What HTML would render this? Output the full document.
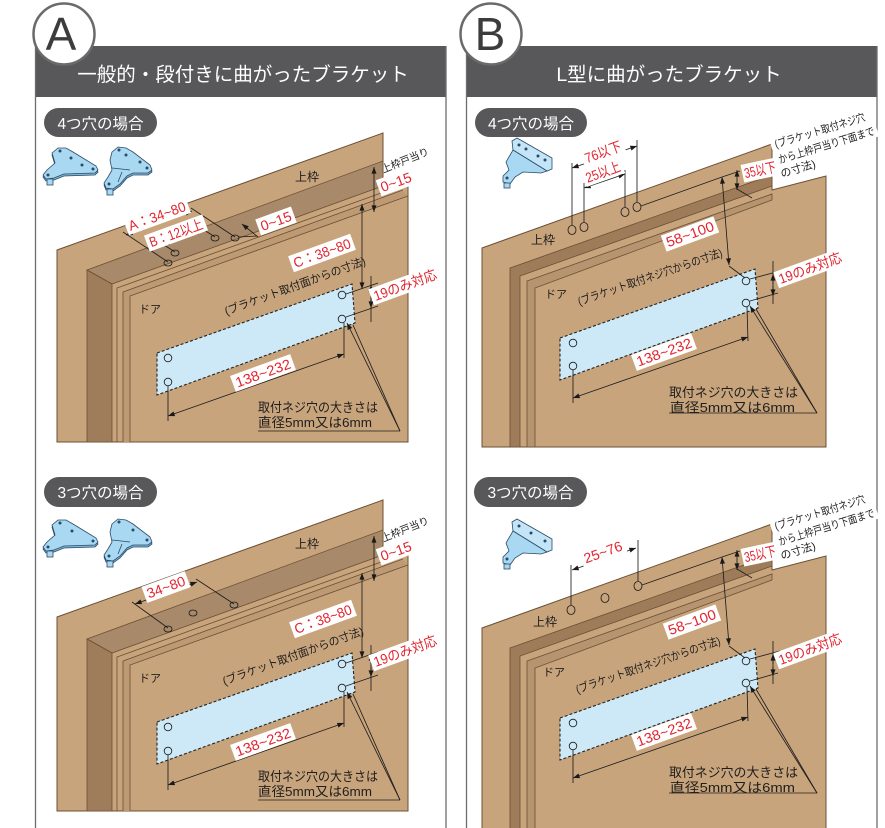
<!DOCTYPE html>
<html><head><meta charset="utf-8">
<style>
html,body{margin:0;padding:0;background:#fff;}
svg{display:block;}
text{font-family:"Liberation Sans","Noto Sans CJK JP",sans-serif;}
.r{fill:#e2242f;font-size:14px;}
.k{fill:#1e1e1e;}
.ln{stroke:#1e1e1e;stroke-width:0.85;fill:none;}
.ed{stroke:#6b4f34;stroke-width:0.8;fill:none;}
</style></head><body>
<svg width="885" height="828" viewBox="0 0 885 828" xmlns="http://www.w3.org/2000/svg">
<defs>
<marker id="ah" viewBox="0 0 8 6" refX="8" refY="3" markerWidth="7" markerHeight="5" markerUnits="userSpaceOnUse" orient="auto-start-reverse"><path d="M0,0 L8,3 L0,6 z" fill="#1a1a1a"/></marker>
</defs>

<!-- ===== PANEL FRAMES ===== -->
<rect x="35" y="46" width="411" height="51" fill="#58585a"/>
<rect x="466" y="46" width="411" height="51" fill="#58585a"/>
<g stroke="#6d6d6d" stroke-width="1.3">
<line x1="35.5" y1="46" x2="35.5" y2="828"/>
<line x1="446" y1="46" x2="446" y2="828"/>
<line x1="466.5" y1="46" x2="466.5" y2="828"/>
<line x1="877" y1="46" x2="877" y2="828"/>
</g>
<text x="243" y="81" font-size="19.5" fill="#fff" text-anchor="middle">一般的・段付きに曲がったブラケット</text>
<text x="669" y="81" font-size="19.5" fill="#fff" text-anchor="middle">L型に曲がったブラケット</text>
<circle cx="64" cy="34" r="30.5" fill="#fff" stroke="#6a6a6a" stroke-width="2.5"/>
<text x="61" y="50" font-size="46" fill="#3c3c3c" text-anchor="middle">A</text>
<circle cx="491" cy="34" r="30.5" fill="#fff" stroke="#6a6a6a" stroke-width="2.5"/>
<text x="490" y="50" font-size="46" fill="#3c3c3c" text-anchor="middle">B</text>

<!-- pills -->
<rect x="44" y="108" width="113" height="29" rx="14.5" fill="#58585a"/>
<text x="100.5" y="129" font-size="15.5" fill="#fff" text-anchor="middle">4つ穴の場合</text>
<rect x="475" y="108" width="112" height="29" rx="14.5" fill="#58585a"/>
<text x="531" y="129" font-size="15.5" fill="#fff" text-anchor="middle">4つ穴の場合</text>
<rect x="44" y="477" width="113" height="30" rx="15" fill="#58585a"/>
<text x="100.5" y="498" font-size="15.5" fill="#fff" text-anchor="middle">3つ穴の場合</text>
<rect x="474" y="477" width="113" height="30" rx="15" fill="#58585a"/>
<text x="530.5" y="498" font-size="15.5" fill="#fff" text-anchor="middle">3つ穴の場合</text>

<!-- ===== BRACKET ICONS ===== -->
<g>
<g stroke="#2a4a66" stroke-width="0.8" fill="#a9d8f2">
<path d="M52,155 L58,150 L66,150 L73,154 L96,168 L98,172 L95,175 L64,176 L54,180 L46,181 L43,177 L47,172 L55,165 Z" fill="#7fb6d8"/>
<path d="M52,153 L58,148 L66,148 L73,152 L96,166 L98,170 L95,173 L64,174 L54,178 L46,179 L43,175 L47,170 L55,163 Z"/>
<rect x="47" y="179" width="6" height="6"/>
<path d="M112,154 L118,149 L126,150 L133,154 L150,167 L152,172 L148,175 L133,175 L127,178 L120,186 L113,191 L106,190 L104,185 L108,179 L112,172 Z" fill="#7fb6d8"/>
<path d="M112,152 L118,147 L126,148 L133,152 L150,165 L152,170 L148,173 L133,173 L127,176 L120,184 L113,189 L106,188 L104,183 L108,177 L112,170 L110,160 Z"/>
<path d="M112,168 L130,170 M118,182 L122,172" fill="none"/>
<rect x="107" y="189" width="6" height="6"/>
</g>
<g fill="#2a4a66">
<circle cx="60" cy="151" r="1.5"/><circle cx="71" cy="158" r="1.5"/><circle cx="82" cy="165" r="1.5"/><circle cx="93" cy="169" r="1.5"/><circle cx="48" cy="175" r="1.5"/>
<circle cx="119" cy="150" r="1.5"/><circle cx="126" cy="155" r="1.5"/><circle cx="140" cy="162" r="1.5"/><circle cx="147" cy="168" r="1.5"/><circle cx="109" cy="184" r="1.5"/>
</g>
</g>
<g transform="translate(0,372)">
<g stroke="#2a4a66" stroke-width="0.8" fill="#a9d8f2">
<path d="M52,155 L58,150 L66,150 L73,154 L96,168 L98,172 L95,175 L64,176 L54,180 L46,181 L43,177 L47,172 L55,165 Z" fill="#7fb6d8"/>
<path d="M52,153 L58,148 L66,148 L73,152 L96,166 L98,170 L95,173 L64,174 L54,178 L46,179 L43,175 L47,170 L55,163 Z"/>
<rect x="47" y="179" width="6" height="6"/>
<path d="M112,154 L118,149 L126,150 L133,154 L150,167 L152,172 L148,175 L133,175 L127,178 L120,186 L113,191 L106,190 L104,185 L108,179 L112,172 Z" fill="#7fb6d8"/>
<path d="M112,152 L118,147 L126,148 L133,152 L150,165 L152,170 L148,173 L133,173 L127,176 L120,184 L113,189 L106,188 L104,183 L108,177 L112,170 L110,160 Z"/>
<path d="M112,168 L130,170 M118,182 L122,172" fill="none"/>
<rect x="107" y="189" width="6" height="6"/>
</g>
<g fill="#2a4a66">
<circle cx="60" cy="151" r="1.5"/><circle cx="72" cy="159" r="1.5"/><circle cx="93" cy="169" r="1.5"/><circle cx="48" cy="175" r="1.5"/>
<circle cx="119" cy="150" r="1.5"/><circle cx="133" cy="158" r="1.5"/><circle cx="147" cy="168" r="1.5"/><circle cx="109" cy="184" r="1.5"/>
</g>
</g>
<g>
<g stroke="#2a4a66" stroke-width="0.8" fill="#a9d8f2">
<path d="M512,141 L517,138 L552,158 L552,169 L547,171 L513,150 Z" fill="#c4e5f7"/>
<path d="M513,150 L547,171 L541,173 L523,172 L515,177 L510,184 L503,182 L503,176 L509,170 L506,162 Z"/>
<rect x="504" y="183" width="6" height="5"/>
</g>
<g fill="#2a4a66"><circle cx="519" cy="145" r="1.5"/><circle cx="526" cy="149" r="1.5"/><circle cx="538" cy="156" r="1.5"/><circle cx="545" cy="160" r="1.5"/><circle cx="507" cy="178" r="1.5"/></g>
</g>
<g transform="translate(0,381)">
<g stroke="#2a4a66" stroke-width="0.8" fill="#a9d8f2">
<path d="M512,141 L517,138 L552,158 L552,169 L547,171 L513,150 Z" fill="#c4e5f7"/>
<path d="M513,150 L547,171 L541,173 L523,172 L515,177 L510,184 L503,182 L503,176 L509,170 L506,162 Z"/>
<rect x="504" y="183" width="6" height="5"/>
</g>
<g fill="#2a4a66"><circle cx="519" cy="145" r="1.5"/><circle cx="531" cy="152" r="1.5"/><circle cx="545" cy="160" r="1.5"/><circle cx="507" cy="178" r="1.5"/></g>
</g>

<!-- ===== A TOP DIAGRAM ===== -->
<g>
<polygon points="57,250 383,133 383,186 408,183 408,442 57,442" fill="#c8a47c" stroke="#6b4f34" stroke-width="1"/>
<polygon points="87,270 383,161 383,186 112,284" fill="#a88969" stroke="#6b4f34" stroke-width="0.8"/>
<polygon points="87,270 112,284 112,442 87,442" fill="#a07d5a" stroke="#6b4f34" stroke-width="0.8"/>
<polygon points="123,292 403,191 408,196 130,296 130,442 123,442" fill="#bd9a73"/>
<polyline class="ed" points="117,442 117,288 395,188"/>
<polyline class="ed" points="123,442 123,292 403,190"/>
<polyline class="ed" points="130,442 130,296 408,196"/>
<polygon points="157,353 352,284 355,323 157,395" fill="#cde8f7" stroke="#222" stroke-width="1.1" stroke-dasharray="3,2"/>
<g class="ln"><circle cx="342" cy="295" r="3.8"/><circle cx="342" cy="319" r="3.8"/><circle cx="168" cy="358" r="3.8"/><circle cx="168" cy="382" r="3.8"/></g>
<g class="ln">
<line x1="374" y1="167" x2="374" y2="212" marker-start="url(#ah)" marker-end="url(#ah)"/>
<line x1="362" y1="204" x2="362" y2="289" marker-start="url(#ah)" marker-end="url(#ah)"/>
<line x1="346" y1="294" x2="378" y2="283"/>
<line x1="346" y1="317" x2="378" y2="306"/>
<line x1="371" y1="276" x2="371" y2="322"/>
<line x1="371" y1="295" x2="371" y2="285" marker-end="url(#ah)"/>
<line x1="371" y1="298" x2="371" y2="308" marker-end="url(#ah)"/>
<line x1="168" y1="386" x2="168" y2="421"/>
<line x1="344" y1="323" x2="344" y2="358"/>
<line x1="168" y1="416" x2="344" y2="354" marker-start="url(#ah)" marker-end="url(#ah)"/>
<line x1="258" y1="431" x2="400" y2="431"/>
<line x1="400" y1="431" x2="347" y2="323" marker-end="url(#ah)"/>
<line x1="400" y1="431" x2="353" y2="325"/>
</g>
<text x="307" y="181" font-size="12" class="k" text-anchor="middle">上枠</text>
<text x="150" y="313" font-size="11" class="k" text-anchor="middle">ドア</text>
<g transform="translate(295,286) rotate(-20)"><text y="4" font-size="11.5" class="k" text-anchor="middle" textLength="149" lengthAdjust="spacingAndGlyphs">(ブラケット取付面からの寸法)</text></g>
<g transform="translate(396,182) rotate(-20)"><rect x="-18.5" y="-8.5" width="37" height="17" fill="#fff"/><text y="5" class="r" text-anchor="middle" textLength="32" lengthAdjust="spacingAndGlyphs">0~15</text></g>
<g transform="translate(405,160) rotate(-22)"><text y="4" font-size="10.5" class="k" text-anchor="middle" textLength="50" lengthAdjust="spacingAndGlyphs">上枠戸当り</text></g>
<g transform="translate(322,253) rotate(-20)"><rect x="-33" y="-8.5" width="66" height="17" fill="#fff"/><text y="5" class="r" text-anchor="middle" textLength="60" lengthAdjust="spacingAndGlyphs">C：38~80</text></g>
<g transform="translate(405,285) rotate(-20)"><rect x="-36" y="-8.5" width="72" height="17" fill="#fff"/><text y="5" class="r" text-anchor="middle" textLength="66" lengthAdjust="spacingAndGlyphs">19のみ対応</text></g>
<g transform="translate(263,373) rotate(-20)"><rect x="-32" y="-8.5" width="64" height="17" fill="#fff"/><text y="5" class="r" text-anchor="middle" textLength="58" lengthAdjust="spacingAndGlyphs">138~232</text></g>
<text x="258" y="412" font-size="13" class="k" textLength="120" lengthAdjust="spacingAndGlyphs">取付ネジ穴の大きさは</text>
<text x="258" y="427" font-size="13" class="k" textLength="114" lengthAdjust="spacingAndGlyphs">直径5mm又は6mm</text>
</g>
<!-- A top specific -->
<g class="ln">
<ellipse cx="168" cy="263" rx="4" ry="3"/><ellipse cx="175" cy="253" rx="4" ry="3"/><ellipse cx="215" cy="238" rx="4" ry="3"/><ellipse cx="235" cy="238" rx="4" ry="3"/>
<line x1="168" y1="262" x2="123" y2="232"/>
<line x1="235" y1="237" x2="191" y2="208"/>
<line x1="126" y1="235" x2="192" y2="211" marker-start="url(#ah)" marker-end="url(#ah)"/>
<line x1="175" y1="252" x2="161" y2="243"/>
<line x1="215" y1="237" x2="201" y2="228"/>
<line x1="163" y1="245" x2="203" y2="230" marker-start="url(#ah)" marker-end="url(#ah)"/>
<line x1="239" y1="237" x2="257" y2="236"/>
<line x1="258" y1="237" x2="242" y2="224" marker-end="url(#ah)"/>
</g>
<g transform="translate(157,216) rotate(-20)"><rect x="-33" y="-8.5" width="66" height="17" fill="#fff"/><text y="5" class="r" text-anchor="middle" textLength="60" lengthAdjust="spacingAndGlyphs">A：34~80</text></g>
<g transform="translate(176,233) rotate(-20)"><rect x="-31" y="-8.5" width="62" height="17" fill="#fff"/><text y="5" class="r" text-anchor="middle" textLength="56" lengthAdjust="spacingAndGlyphs">B：12以上</text></g>
<g transform="translate(276,221) rotate(-20)"><rect x="-19" y="-8.5" width="38" height="17" fill="#fff"/><text y="5" class="r" text-anchor="middle" textLength="32" lengthAdjust="spacingAndGlyphs">0~15</text></g>

<!-- ===== A BOTTOM DIAGRAM ===== -->
<g transform="translate(0,369)">
<polygon points="57,248 383,131 383,186 408,183 408,442 57,442" fill="#c8a47c" stroke="#6b4f34" stroke-width="1"/>
<polygon points="87,270 383,161 383,186 112,284" fill="#a88969" stroke="#6b4f34" stroke-width="0.8"/>
<polygon points="87,270 112,284 112,442 87,442" fill="#a07d5a" stroke="#6b4f34" stroke-width="0.8"/>
<polygon points="123,292 403,191 408,196 130,296 130,442 123,442" fill="#bd9a73"/>
<polyline class="ed" points="117,442 117,288 395,188"/>
<polyline class="ed" points="123,442 123,292 403,190"/>
<polyline class="ed" points="130,442 130,296 408,196"/>
<polygon points="157,353 352,284 355,323 157,395" fill="#cde8f7" stroke="#222" stroke-width="1.1" stroke-dasharray="3,2"/>
<g class="ln"><circle cx="342" cy="295" r="3.8"/><circle cx="342" cy="319" r="3.8"/><circle cx="168" cy="358" r="3.8"/><circle cx="168" cy="382" r="3.8"/></g>
<g class="ln">
<line x1="374" y1="167" x2="374" y2="212" marker-start="url(#ah)" marker-end="url(#ah)"/>
<line x1="362" y1="204" x2="362" y2="289" marker-start="url(#ah)" marker-end="url(#ah)"/>
<line x1="346" y1="294" x2="378" y2="283"/>
<line x1="346" y1="317" x2="378" y2="306"/>
<line x1="371" y1="276" x2="371" y2="322"/>
<line x1="371" y1="295" x2="371" y2="285" marker-end="url(#ah)"/>
<line x1="371" y1="298" x2="371" y2="308" marker-end="url(#ah)"/>
<line x1="168" y1="386" x2="168" y2="421"/>
<line x1="344" y1="323" x2="344" y2="358"/>
<line x1="168" y1="416" x2="344" y2="354" marker-start="url(#ah)" marker-end="url(#ah)"/>
<line x1="258" y1="431" x2="400" y2="431"/>
<line x1="400" y1="431" x2="347" y2="323" marker-end="url(#ah)"/>
<line x1="400" y1="431" x2="353" y2="325"/>
<ellipse cx="168" cy="260" rx="4" ry="3"/><ellipse cx="193" cy="244" rx="4" ry="3"/><ellipse cx="234" cy="236" rx="4" ry="3"/>
<line x1="168" y1="259" x2="132" y2="233"/>
<line x1="234" y1="235" x2="196" y2="210"/>
<line x1="135" y1="235" x2="197" y2="213" marker-start="url(#ah)" marker-end="url(#ah)"/>
</g>
<text x="307" y="179" font-size="12" class="k" text-anchor="middle">上枠</text>
<text x="150" y="313" font-size="11" class="k" text-anchor="middle">ドア</text>
<g transform="translate(293,287) rotate(-20)"><text y="4" font-size="11.5" class="k" text-anchor="middle" textLength="149" lengthAdjust="spacingAndGlyphs">(ブラケット取付面からの寸法)</text></g>
<g transform="translate(396,182) rotate(-20)"><rect x="-18.5" y="-8.5" width="37" height="17" fill="#fff"/><text y="5" class="r" text-anchor="middle" textLength="32" lengthAdjust="spacingAndGlyphs">0~15</text></g>
<g transform="translate(405,160) rotate(-22)"><text y="4" font-size="10.5" class="k" text-anchor="middle" textLength="50" lengthAdjust="spacingAndGlyphs">上枠戸当り</text></g>
<g transform="translate(323,250) rotate(-20)"><rect x="-33" y="-8.5" width="66" height="17" fill="#fff"/><text y="5" class="r" text-anchor="middle" textLength="60" lengthAdjust="spacingAndGlyphs">C：38~80</text></g>
<g transform="translate(405,282) rotate(-20)"><rect x="-36" y="-8.5" width="72" height="17" fill="#fff"/><text y="5" class="r" text-anchor="middle" textLength="66" lengthAdjust="spacingAndGlyphs">19のみ対応</text></g>
<g transform="translate(263,373) rotate(-20)"><rect x="-32" y="-8.5" width="64" height="17" fill="#fff"/><text y="5" class="r" text-anchor="middle" textLength="58" lengthAdjust="spacingAndGlyphs">138~232</text></g>
<g transform="translate(166,218) rotate(-20)"><rect x="-23" y="-8.5" width="46" height="17" fill="#fff"/><text y="5" class="r" text-anchor="middle" textLength="40" lengthAdjust="spacingAndGlyphs">34~80</text></g>
<text x="258" y="412" font-size="13" class="k" textLength="120" lengthAdjust="spacingAndGlyphs">取付ネジ穴の大きさは</text>
<text x="258" y="427" font-size="13" class="k" textLength="114" lengthAdjust="spacingAndGlyphs">直径5mm又は6mm</text>
</g>

<!-- ===== B TOP DIAGRAM ===== -->
<g>
<polygon points="482,248 772,144 772,190 826,176 826,447 482,447" fill="#c8a47c" stroke="#6b4f34" stroke-width="1"/>
<polygon points="510,268 772,175 772,186 520,276 520,447 510,447" fill="#9f7c59" stroke="#6b4f34" stroke-width="0.8"/>
<polygon points="527,281 772,194 772,200 535,288 535,447 527,447" fill="#b79470" stroke="#6b4f34" stroke-width="0.8"/>
<polygon points="560,338 755,269 758,308 560,380" fill="#cde8f7" stroke="#222" stroke-width="1.1" stroke-dasharray="3,2"/>
<g class="ln"><circle cx="746" cy="281" r="3.8"/><circle cx="746" cy="303" r="3.8"/><circle cx="573" cy="343" r="3.8"/><circle cx="573" cy="366" r="3.8"/></g>
<g class="ln">
<line x1="729" y1="266" x2="745" y2="278"/>
<line x1="722" y1="177" x2="740" y2="171"/>
<line x1="722" y1="177" x2="729" y2="265" marker-start="url(#ah)" marker-end="url(#ah)"/>
<line x1="737" y1="170" x2="737" y2="190" marker-start="url(#ah)" marker-end="url(#ah)"/>
<line x1="737" y1="189" x2="752" y2="198"/>
<line x1="750" y1="279" x2="780" y2="271"/>
<line x1="750" y1="301" x2="778" y2="293"/>
<line x1="773" y1="261" x2="773" y2="304"/>
<line x1="773" y1="284" x2="773" y2="274" marker-end="url(#ah)"/>
<line x1="773" y1="286" x2="773" y2="296" marker-end="url(#ah)"/>
<line x1="573" y1="370" x2="573" y2="403"/>
<line x1="747" y1="307" x2="748" y2="341"/>
<line x1="573" y1="398" x2="748" y2="337" marker-start="url(#ah)" marker-end="url(#ah)"/>
<line x1="669" y1="413" x2="817" y2="413"/>
<line x1="817" y1="413" x2="750" y2="306" marker-end="url(#ah)"/>
<line x1="817" y1="413" x2="756" y2="309"/>
</g>
<text x="543" y="244" font-size="12" class="k" text-anchor="middle">上枠</text>
<text x="556" y="298" font-size="11" class="k" text-anchor="middle">ドア</text>
<g transform="translate(650,277) rotate(-19)"><text y="4" font-size="11.5" class="k" text-anchor="middle" textLength="152" lengthAdjust="spacingAndGlyphs">(ブラケット取付ネジ穴からの寸法)</text></g>
<g transform="translate(776,148) rotate(-17)">
<rect x="-4" y="-12" width="100" height="17" fill="#fff"/>
<rect x="-4" y="4" width="106" height="15" fill="#fff"/>
<rect x="-6" y="19" width="44" height="15" fill="#fff"/>
<text x="0" y="0" font-size="11" class="k" textLength="94" lengthAdjust="spacingAndGlyphs">(ブラケット取付ネジ穴</text>
<text x="-1" y="16" font-size="11" class="k" textLength="100" lengthAdjust="spacingAndGlyphs">から上枠戸当り下面まで</text>
<text x="-3" y="30" font-size="11" class="k" textLength="36" lengthAdjust="spacingAndGlyphs">の寸法)</text>
</g>
<g transform="translate(760,170) rotate(-12)"><rect x="-18" y="-9" width="36" height="18" fill="#fff"/><text y="5" class="r" text-anchor="middle" textLength="32" lengthAdjust="spacingAndGlyphs">35以下</text></g>
<g transform="translate(690,234) rotate(-20)"><rect x="-28" y="-8.5" width="56" height="17" fill="#fff"/><text y="5" class="r" text-anchor="middle" textLength="50" lengthAdjust="spacingAndGlyphs">58~100</text></g>
<g transform="translate(810,268) rotate(-20)"><rect x="-36" y="-8.5" width="72" height="17" fill="#fff"/><text y="5" class="r" text-anchor="middle" textLength="66" lengthAdjust="spacingAndGlyphs">19のみ対応</text></g>
<g transform="translate(664,352) rotate(-20)"><rect x="-32" y="-8.5" width="64" height="17" fill="#fff"/><text y="5" class="r" text-anchor="middle" textLength="58" lengthAdjust="spacingAndGlyphs">138~232</text></g>
<text x="669" y="397" font-size="13" class="k" textLength="129" lengthAdjust="spacingAndGlyphs">取付ネジ穴の大きさは</text>
<text x="670" y="412" font-size="13" class="k" textLength="125" lengthAdjust="spacingAndGlyphs">直径5mm又は6mm</text>
</g>
<!-- B top specific -->
<g class="ln">
<ellipse cx="572" cy="230" rx="4" ry="4.5"/><ellipse cx="584" cy="227" rx="4" ry="4.5"/><ellipse cx="625" cy="212" rx="4" ry="4.5"/><ellipse cx="637" cy="207" rx="4" ry="4.5"/>
<line x1="572" y1="225" x2="572" y2="163"/>
<line x1="584" y1="222" x2="584" y2="183"/>
<line x1="625" y1="207" x2="625" y2="170"/>
<line x1="637" y1="202" x2="637" y2="140"/>
<line x1="572" y1="168" x2="637" y2="146" marker-start="url(#ah)" marker-end="url(#ah)"/>
<line x1="584" y1="188" x2="625" y2="174" marker-start="url(#ah)" marker-end="url(#ah)"/>
<line x1="641" y1="206" x2="722" y2="177"/>
</g>
<g transform="translate(603,152) rotate(-20)"><rect x="-22" y="-8.5" width="44" height="17" fill="#fff"/><text y="5" class="r" text-anchor="middle" textLength="38" lengthAdjust="spacingAndGlyphs">76以下</text></g>
<g transform="translate(603,172) rotate(-20)"><rect x="-20.5" y="-8.5" width="41" height="17" fill="#fff"/><text y="5" class="r" text-anchor="middle" textLength="36" lengthAdjust="spacingAndGlyphs">25以上</text></g>

<!-- ===== B BOTTOM DIAGRAM ===== -->
<g transform="translate(0,380)">
<polygon points="482,248 772,144 772,190 826,176 826,449 482,449" fill="#c8a47c" stroke="#6b4f34" stroke-width="1"/>
<polygon points="510,268 772,175 772,186 520,276 520,449 510,449" fill="#9f7c59" stroke="#6b4f34" stroke-width="0.8"/>
<polygon points="527,281 772,194 772,200 535,288 535,449 527,449" fill="#b79470" stroke="#6b4f34" stroke-width="0.8"/>
<polygon points="560,338 755,269 758,308 560,380" fill="#cde8f7" stroke="#222" stroke-width="1.1" stroke-dasharray="3,2"/>
<g class="ln"><circle cx="746" cy="281" r="3.8"/><circle cx="746" cy="303" r="3.8"/><circle cx="573" cy="343" r="3.8"/><circle cx="573" cy="366" r="3.8"/></g>
<g class="ln">
<line x1="729" y1="266" x2="745" y2="278"/>
<line x1="722" y1="177" x2="740" y2="171"/>
<line x1="722" y1="177" x2="729" y2="265" marker-start="url(#ah)" marker-end="url(#ah)"/>
<line x1="737" y1="170" x2="737" y2="190" marker-start="url(#ah)" marker-end="url(#ah)"/>
<line x1="737" y1="189" x2="752" y2="198"/>
<line x1="750" y1="279" x2="780" y2="271"/>
<line x1="750" y1="301" x2="778" y2="293"/>
<line x1="773" y1="261" x2="773" y2="304"/>
<line x1="773" y1="284" x2="773" y2="274" marker-end="url(#ah)"/>
<line x1="773" y1="286" x2="773" y2="296" marker-end="url(#ah)"/>
<line x1="573" y1="370" x2="573" y2="403"/>
<line x1="747" y1="307" x2="748" y2="341"/>
<line x1="573" y1="398" x2="748" y2="337" marker-start="url(#ah)" marker-end="url(#ah)"/>
<line x1="669" y1="413" x2="817" y2="413"/>
<line x1="817" y1="413" x2="750" y2="306" marker-end="url(#ah)"/>
<line x1="817" y1="413" x2="756" y2="309"/>
<ellipse cx="571" cy="230" rx="4" ry="4.5"/><ellipse cx="605" cy="218" rx="4" ry="4.5"/><ellipse cx="638" cy="206" rx="4" ry="4.5"/>
<line x1="571" y1="225" x2="571" y2="185"/>
<line x1="638" y1="201" x2="638" y2="160"/>
<line x1="572" y1="190" x2="636" y2="168" marker-start="url(#ah)" marker-end="url(#ah)"/>
<line x1="642" y1="205" x2="722" y2="177"/>
</g>
<text x="545" y="246" font-size="12" class="k" text-anchor="middle">上枠</text>
<text x="554" y="296" font-size="11" class="k" text-anchor="middle">ドア</text>
<g transform="translate(648,285) rotate(-19)"><text y="4" font-size="11.5" class="k" text-anchor="middle" textLength="152" lengthAdjust="spacingAndGlyphs">(ブラケット取付ネジ穴からの寸法)</text></g>
<g transform="translate(603,172) rotate(-20)"><rect x="-23" y="-8.5" width="46" height="17" fill="#fff"/><text y="5" class="r" text-anchor="middle" textLength="40" lengthAdjust="spacingAndGlyphs">25~76</text></g>
<g transform="translate(776,150) rotate(-17)">
<rect x="-4" y="-12" width="100" height="17" fill="#fff"/>
<rect x="-4" y="4" width="106" height="15" fill="#fff"/>
<rect x="-6" y="19" width="44" height="15" fill="#fff"/>
<text x="0" y="0" font-size="11" class="k" textLength="94" lengthAdjust="spacingAndGlyphs">(ブラケット取付ネジ穴</text>
<text x="-1" y="16" font-size="11" class="k" textLength="100" lengthAdjust="spacingAndGlyphs">から上枠戸当り下面まで</text>
<text x="-3" y="30" font-size="11" class="k" textLength="36" lengthAdjust="spacingAndGlyphs">の寸法)</text>
</g>
<g transform="translate(760,174) rotate(-12)"><rect x="-18" y="-9" width="36" height="18" fill="#fff"/><text y="5" class="r" text-anchor="middle" textLength="32" lengthAdjust="spacingAndGlyphs">35以下</text></g>
<g transform="translate(692,242) rotate(-20)"><rect x="-28" y="-8.5" width="56" height="17" fill="#fff"/><text y="5" class="r" text-anchor="middle" textLength="50" lengthAdjust="spacingAndGlyphs">58~100</text></g>
<g transform="translate(810,269) rotate(-20)"><rect x="-36" y="-8.5" width="72" height="17" fill="#fff"/><text y="5" class="r" text-anchor="middle" textLength="66" lengthAdjust="spacingAndGlyphs">19のみ対応</text></g>
<g transform="translate(664,352) rotate(-20)"><rect x="-32" y="-8.5" width="64" height="17" fill="#fff"/><text y="5" class="r" text-anchor="middle" textLength="58" lengthAdjust="spacingAndGlyphs">138~232</text></g>
<text x="669" y="397" font-size="13" class="k" textLength="129" lengthAdjust="spacingAndGlyphs">取付ネジ穴の大きさは</text>
<text x="670" y="412" font-size="13" class="k" textLength="125" lengthAdjust="spacingAndGlyphs">直径5mm又は6mm</text>
</g>
</svg>
</body></html>
